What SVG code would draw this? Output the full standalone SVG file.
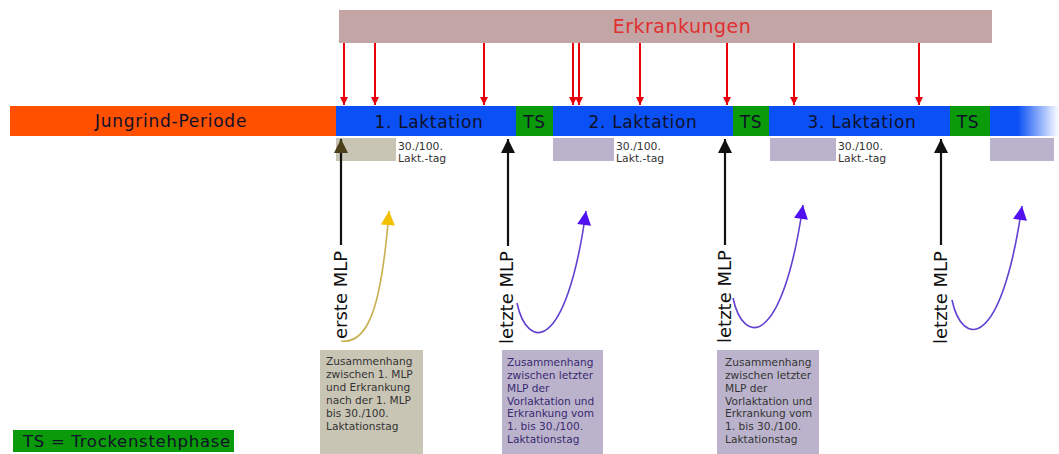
<svg xmlns="http://www.w3.org/2000/svg" width="1059" height="454" viewBox="0 0 1059 454">
<style>
.lbl{font-family:"DejaVu Sans",Verdana,sans-serif;fill:#101028}
.bar{font-size:17px;letter-spacing:0.65px}
.small{font-family:"DejaVu Sans",Verdana,sans-serif;font-size:10.8px;fill:#333}
.note{font-family:"DejaVu Sans",Verdana,sans-serif;font-size:10.6px}
.mlp{font-family:"DejaVu Sans",Verdana,sans-serif;font-size:18px;fill:#111}
.red{stroke:#e8000a;stroke-width:2;fill:none}
.blk{stroke:#111;stroke-width:2.2;fill:none}
.pur{stroke:#6040d0;stroke-width:1.6;fill:none}
</style>
<defs>
<marker id="mRed" viewBox="0 0 10 10" refX="10" refY="5" markerUnits="userSpaceOnUse" markerWidth="11" markerHeight="8" orient="auto"><path d="M0,0 L10,5 L0,10 z" fill="#e8000a"/></marker>
<marker id="mBlk" viewBox="0 0 10 10" refX="10" refY="5" markerUnits="userSpaceOnUse" markerWidth="18" markerHeight="14" orient="auto"><path d="M0,0 L10,5 L0,10 z" fill="#111"/></marker>
<marker id="mOli" viewBox="0 0 10 10" refX="10" refY="5" markerUnits="userSpaceOnUse" markerWidth="18" markerHeight="14" orient="auto"><path d="M0,0 L10,5 L0,10 z" fill="#4a3f1a"/></marker>
<marker id="mYel" viewBox="0 0 10 10" refX="10" refY="5" markerUnits="userSpaceOnUse" markerWidth="16" markerHeight="14" orient="auto"><path d="M0,0 L10,5 L0,10 z" fill="#f2c000"/></marker>
<marker id="mPur" viewBox="0 0 10 10" refX="10" refY="5" markerUnits="userSpaceOnUse" markerWidth="16" markerHeight="14" orient="auto"><path d="M0,0 L10,5 L0,10 z" fill="#5010f0"/></marker>
<linearGradient id="gFade" x1="0" y1="0" x2="1" y2="0"><stop offset="0" stop-color="#0a50f5"/><stop offset="0.4" stop-color="#0a50f5"/><stop offset="1" stop-color="#0a50f5" stop-opacity="0"/></linearGradient>
</defs>
<rect width="1059" height="454" fill="#fff"/>

<g id="erkrankungen">
<rect x="339" y="10" width="653" height="33" fill="#c4a5a5"/>
<text x="682" y="33" text-anchor="middle" font-family="DejaVu Sans, Verdana, sans-serif" font-size="19" letter-spacing="0.5" fill="#e03030">Erkrankungen</text>
</g>

<g id="timeline">
<g id="jungrind"><rect x="10" y="106" width="326" height="30" fill="#ff5000"/><text class="lbl" x="171" y="127" font-size="17" letter-spacing="0.75" text-anchor="middle">Jungrind-Periode</text></g>
<g id="lakt1"><rect x="336" y="106" width="180" height="30" fill="#0a50f5"/><text class="lbl bar" x="429" y="128" text-anchor="middle">1. Laktation</text></g>
<g id="ts1"><rect x="516" y="106" width="37" height="30" fill="#0a9a0a"/><text class="lbl bar" x="534.5" y="128" text-anchor="middle">TS</text></g>
<g id="lakt2"><rect x="553" y="106" width="180" height="30" fill="#0a50f5"/><text class="lbl bar" x="643" y="128" text-anchor="middle">2. Laktation</text></g>
<g id="ts2"><rect x="733" y="106" width="36" height="30" fill="#0a9a0a"/><text class="lbl bar" x="751" y="128" text-anchor="middle">TS</text></g>
<g id="lakt3"><rect x="769" y="106" width="181" height="30" fill="#0a50f5"/><text class="lbl bar" x="862" y="128" text-anchor="middle">3. Laktation</text></g>
<g id="ts3"><rect x="950" y="106" width="40" height="30" fill="#0a9a0a"/><text class="lbl bar" x="968" y="128" text-anchor="middle">TS</text></g>
<g id="fade"><rect x="990" y="106" width="69" height="30" fill="url(#gFade)"/></g>
</g>

<g id="tagboxes">
<g id="tag1"><rect x="336" y="138" width="60" height="23" fill="#c9c5b5"/><text class="small" x="398" y="150">30./100.</text><text class="small" x="398" y="162">Lakt.-tag</text></g>
<g id="tag2"><rect x="553" y="138" width="61" height="23" fill="#bbb3cc"/><text class="small" x="616" y="150">30./100.</text><text class="small" x="616" y="162">Lakt.-tag</text></g>
<g id="tag3"><rect x="770" y="138" width="66" height="23" fill="#bbb3cc"/><text class="small" x="838" y="150">30./100.</text><text class="small" x="838" y="162">Lakt.-tag</text></g>
<g id="tag4"><rect x="990" y="138" width="64" height="23" fill="#bbb3cc"/></g>
</g>

<g id="connectors">
<line class="red" x1="344" y1="43" x2="344" y2="105" marker-end="url(#mRed)"/>
<line class="red" x1="375" y1="43" x2="375" y2="105" marker-end="url(#mRed)"/>
<line class="red" x1="484" y1="43" x2="484" y2="105" marker-end="url(#mRed)"/>
<line class="red" x1="573" y1="43" x2="573" y2="105" marker-end="url(#mRed)"/>
<line class="red" x1="579" y1="43" x2="579" y2="105" marker-end="url(#mRed)"/>
<line class="red" x1="640" y1="43" x2="640" y2="105" marker-end="url(#mRed)"/>
<line class="red" x1="727" y1="43" x2="727" y2="105" marker-end="url(#mRed)"/>
<line class="red" x1="794" y1="43" x2="794" y2="105" marker-end="url(#mRed)"/>
<line class="red" x1="919" y1="43" x2="919" y2="105" marker-end="url(#mRed)"/>

<line class="blk" x1="341" y1="245" x2="341" y2="139" marker-end="url(#mOli)"/>
<line class="blk" x1="508" y1="246" x2="508" y2="139" marker-end="url(#mBlk)"/>
<line class="blk" x1="725" y1="245" x2="725" y2="139" marker-end="url(#mBlk)"/>
<line class="blk" x1="941" y1="245" x2="941" y2="139" marker-end="url(#mBlk)"/>

<path d="M341 341 C370 345 382 300 389 211" stroke="#c8b050" stroke-width="1.6" fill="none" marker-end="url(#mYel)"/>
<path class="pur" d="M517 303 C527 350 566 355 586 211" marker-end="url(#mPur)"/>
<path class="pur" d="M733 298 C743 345 782 350 803 205" marker-end="url(#mPur)"/>
<path class="pur" d="M952 300 C962 347 1001 352 1022 206" marker-end="url(#mPur)"/>
</g>

<g id="mlp-labels">
<text class="mlp" transform="translate(347,339) rotate(-90)">erste MLP</text>
<text class="mlp" transform="translate(513,344) rotate(-90)">letzte MLP</text>
<text class="mlp" transform="translate(731,343) rotate(-90)">letzte MLP</text>
<text class="mlp" transform="translate(947,344) rotate(-90)">letzte MLP</text>
</g>

<g id="note1">
<rect x="320" y="350" width="103" height="104" fill="#c9c5b5"/>
<text class="note" fill="#333">
<tspan x="326" y="365">Zusammenhang</tspan>
<tspan x="326" y="378">zwischen 1. MLP</tspan>
<tspan x="326" y="391">und Erkrankung</tspan>
<tspan x="326" y="404">nach der 1. MLP</tspan>
<tspan x="326" y="417">bis 30./100.</tspan>
<tspan x="326" y="430">Laktationstag</tspan>
</text>
</g>
<g id="note2">
<rect x="502" y="350" width="101" height="104" fill="#bbb3cc"/>
<text class="note" fill="#3a2a70">
<tspan x="507" y="366">Zusammenhang</tspan>
<tspan x="507" y="379">zwischen letzter</tspan>
<tspan x="507" y="392">MLP der</tspan>
<tspan x="507" y="404.5">Vorlaktation und</tspan>
<tspan x="507" y="417">Erkrankung vom</tspan>
<tspan x="507" y="430">1. bis 30./100.</tspan>
<tspan x="507" y="443">Laktationstag</tspan>
</text>
</g>
<g id="note3">
<rect x="717" y="350" width="102" height="104" fill="#bbb3cc"/>
<text class="note" fill="#333">
<tspan x="725" y="366">Zusammenhang</tspan>
<tspan x="725" y="379">zwischen letzter</tspan>
<tspan x="725" y="392">MLP der</tspan>
<tspan x="725" y="404.5">Vorlaktation und</tspan>
<tspan x="725" y="417">Erkrankung vom</tspan>
<tspan x="725" y="430">1. bis 30./100.</tspan>
<tspan x="725" y="443">Laktationstag</tspan>
</text>
</g>

<g id="legend">
<rect x="13" y="430" width="221" height="22" fill="#0a9a0a"/>
<text class="lbl" x="23" y="447" font-size="16.5" letter-spacing="0.7">TS = Trockenstehphase</text>
</g>
</svg>
